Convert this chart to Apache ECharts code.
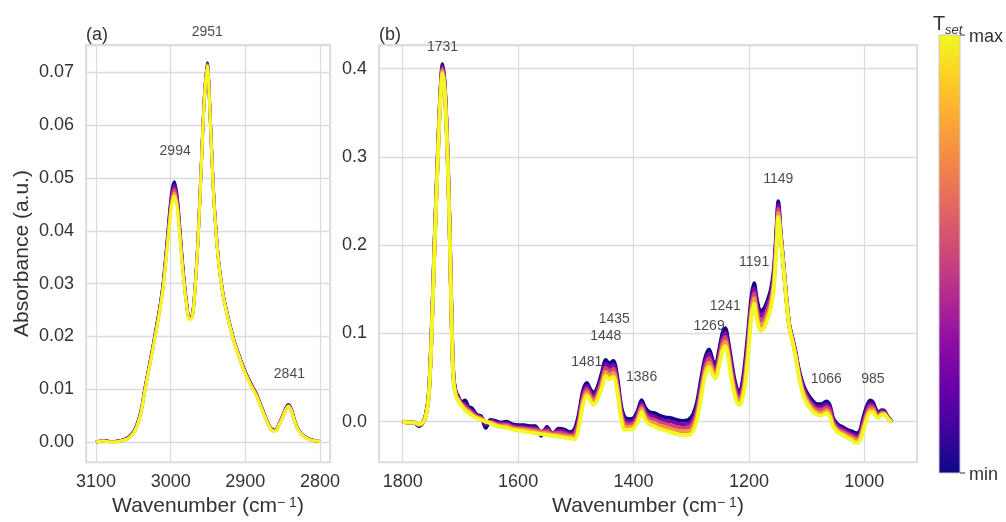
<!DOCTYPE html>
<html>
<head>
<meta charset="utf-8">
<script src="https://cdn.jsdelivr.net/npm/echarts@6/dist/echarts.min.js"></script>
<style>
  html, body { margin: 0; padding: 0; background: #ffffff; }
  #chart { width: 1006px; height: 522px; }
</style>
</head>
<body>
<div id="chart"></div>
<script>
// ---- (a) C–H stretching region, wavenumber in cm^-1 ----
const wnA = [3100, 3090, 3080, 3070, 3064, 3056, 3048, 3040, 3035, 3030,
  3025, 3020, 3015, 3010, 3005, 2999, 2995, 2991, 2987, 2983,
  2979, 2975, 2971, 2967, 2963, 2959, 2955, 2951, 2947, 2943,
  2939, 2935, 2930, 2925, 2920, 2915, 2910, 2905, 2900, 2895,
  2890, 2885, 2880, 2875, 2870, 2865, 2860, 2855, 2850, 2846,
  2842, 2838, 2834, 2830, 2825, 2820, 2815, 2810, 2805, 2800];

// absorbance, one array per set temperature (T1 = min ... T5 = max)
const absA_T1 = [0.0000, 0.0003, 0.0001, 0.0002, 0.0004, 0.0010, 0.0024, 0.0058, 0.0098, 0.0135,
  0.0172, 0.0212, 0.0252, 0.0302, 0.0378, 0.0470, 0.0493, 0.0462, 0.0392, 0.0322,
  0.0268, 0.0236, 0.0240, 0.0300, 0.0395, 0.0525, 0.0650, 0.0718, 0.0615, 0.0485,
  0.0395, 0.0333, 0.0282, 0.0248, 0.0219, 0.0192, 0.0171, 0.0151, 0.0133, 0.0118,
  0.0104, 0.0091, 0.0073, 0.0055, 0.0038, 0.0025, 0.0023, 0.0034, 0.0050, 0.0064,
  0.0071, 0.0061, 0.0041, 0.0027, 0.0016, 0.0010, 0.0006, 0.0004, 0.0002, 0.0001];
const absA_T2 = [0.0000, 0.0003, 0.0001, 0.0002, 0.0004, 0.0010, 0.0023, 0.0057, 0.0097, 0.0134,
  0.0170, 0.0210, 0.0250, 0.0300, 0.0374, 0.0464, 0.0486, 0.0457, 0.0388, 0.0320,
  0.0267, 0.0235, 0.0239, 0.0299, 0.0394, 0.0524, 0.0649, 0.0716, 0.0614, 0.0484,
  0.0394, 0.0332, 0.0281, 0.0247, 0.0218, 0.0191, 0.0170, 0.0150, 0.0132, 0.0117,
  0.0103, 0.0090, 0.0072, 0.0054, 0.0037, 0.0024, 0.0022, 0.0033, 0.0049, 0.0063,
  0.0070, 0.0060, 0.0040, 0.0026, 0.0016, 0.0010, 0.0006, 0.0004, 0.0002, 0.0001];
const absA_T3 = [0.0000, 0.0002, 0.0001, 0.0001, 0.0003, 0.0009, 0.0022, 0.0056, 0.0096, 0.0133,
  0.0169, 0.0208, 0.0248, 0.0297, 0.0370, 0.0457, 0.0479, 0.0451, 0.0384, 0.0317,
  0.0265, 0.0234, 0.0238, 0.0298, 0.0392, 0.0522, 0.0647, 0.0715, 0.0612, 0.0482,
  0.0393, 0.0331, 0.0280, 0.0246, 0.0217, 0.0190, 0.0169, 0.0149, 0.0131, 0.0116,
  0.0102, 0.0089, 0.0071, 0.0053, 0.0037, 0.0024, 0.0022, 0.0033, 0.0048, 0.0062,
  0.0069, 0.0059, 0.0040, 0.0026, 0.0015, 0.0009, 0.0005, 0.0003, 0.0002, 0.0001];
const absA_T4 = [0.0000, 0.0002, 0.0000, 0.0001, 0.0003, 0.0008, 0.0021, 0.0055, 0.0094, 0.0131,
  0.0167, 0.0206, 0.0246, 0.0294, 0.0366, 0.0451, 0.0472, 0.0445, 0.0380, 0.0314,
  0.0263, 0.0233, 0.0237, 0.0297, 0.0391, 0.0521, 0.0646, 0.0713, 0.0611, 0.0481,
  0.0392, 0.0330, 0.0280, 0.0245, 0.0216, 0.0189, 0.0168, 0.0148, 0.0130, 0.0115,
  0.0101, 0.0088, 0.0070, 0.0053, 0.0036, 0.0023, 0.0021, 0.0032, 0.0047, 0.0061,
  0.0068, 0.0058, 0.0039, 0.0025, 0.0015, 0.0009, 0.0005, 0.0003, 0.0002, 0.0001];
const absA_T5 = [0.0000, 0.0002, 0.0000, 0.0001, 0.0003, 0.0008, 0.0021, 0.0054, 0.0093, 0.0130,
  0.0166, 0.0205, 0.0244, 0.0292, 0.0362, 0.0444, 0.0466, 0.0440, 0.0376, 0.0312,
  0.0262, 0.0232, 0.0236, 0.0296, 0.0390, 0.0520, 0.0645, 0.0712, 0.0610, 0.0480,
  0.0391, 0.0329, 0.0279, 0.0245, 0.0216, 0.0189, 0.0168, 0.0148, 0.0129, 0.0114,
  0.0100, 0.0087, 0.0070, 0.0052, 0.0036, 0.0023, 0.0021, 0.0032, 0.0047, 0.0061,
  0.0068, 0.0058, 0.0039, 0.0025, 0.0015, 0.0009, 0.0005, 0.0003, 0.0002, 0.0001];

// ---- (b) fingerprint region ----
const wnB = [1800, 1790, 1780, 1772, 1765, 1760, 1755, 1750, 1745, 1740,
  1735, 1731, 1727, 1722, 1718, 1715, 1712, 1708, 1704, 1698,
  1692, 1686, 1680, 1672, 1664, 1656, 1648, 1640, 1630, 1620,
  1610, 1600, 1590, 1580, 1570, 1560, 1550, 1540, 1530, 1520,
  1510, 1502, 1495, 1488, 1481, 1475, 1469, 1462, 1455, 1448,
  1442, 1435, 1428, 1422, 1416, 1408, 1400, 1393, 1386, 1380,
  1373, 1365, 1355, 1345, 1335, 1325, 1315, 1305, 1297, 1290,
  1283, 1276, 1269, 1262, 1258, 1252, 1246, 1241, 1236, 1230,
  1224, 1218, 1214, 1208, 1202, 1196, 1191, 1186, 1180, 1174,
  1168, 1162, 1157, 1153, 1149, 1145, 1140, 1135, 1130, 1125,
  1120, 1113, 1106, 1098, 1090, 1082, 1074, 1066, 1060, 1054,
  1046, 1038, 1030, 1022, 1014, 1008, 1002, 996, 990, 985,
  980, 975, 970, 965, 960, 955, 952];

const absB_T1 = [0.000, -0.001, -0.001, -0.005, -0.001, 0.008, 0.030, 0.100, 0.200, 0.290,
  0.370, 0.405, 0.380, 0.300, 0.200, 0.110, 0.052, 0.034, 0.029, 0.022,
  0.024, 0.017, 0.015, 0.008, 0.006, -0.007, 0.002, 0.001, -0.001, 0.000,
  -0.003, -0.004, -0.004, -0.005, -0.005, -0.016, -0.006, -0.015, -0.008, -0.009,
  -0.012, -0.008, 0.008, 0.034, 0.044, 0.037, 0.032, 0.040, 0.055, 0.070,
  0.066, 0.069, 0.050, 0.020, 0.006, 0.003, 0.004, 0.012, 0.0245, 0.016,
  0.011, 0.010, 0.007, 0.005, 0.004, 0.002, 0.001, 0.002, 0.008, 0.022,
  0.048, 0.072, 0.082, 0.068, 0.064, 0.080, 0.100, 0.106, 0.092, 0.067,
  0.045, 0.034, 0.036, 0.060, 0.098, 0.140, 0.157, 0.138, 0.125, 0.128,
  0.137, 0.150, 0.172, 0.210, 0.250, 0.215, 0.178, 0.140, 0.110, 0.096,
  0.082, 0.058, 0.042, 0.031, 0.024, 0.020, 0.020, 0.023, 0.019, 0.004,
  -0.003, -0.006, -0.009, -0.011, -0.013, -0.011, 0.004, 0.017, 0.024, 0.022,
  0.014, 0.010, 0.013, 0.012, 0.006, 0.002, 0.000];
const absB_T2 = [0.000, -0.001, -0.001, -0.004, -0.001, 0.0075, 0.029, 0.099, 0.198, 0.288,
  0.368, 0.4025, 0.378, 0.298, 0.199, 0.109, 0.051, 0.033, 0.028, 0.021,
  0.020, 0.015, 0.012, 0.007, 0.005, -0.003, 0.001, -0.0005, -0.002, -0.002,
  -0.0045, -0.0055, -0.006, -0.007, -0.007, -0.012, -0.008, -0.013, -0.010, -0.011,
  -0.014, -0.011, 0.004, 0.030, 0.0405, 0.034, 0.029, 0.0365, 0.051, 0.0655,
  0.0615, 0.0645, 0.046, 0.016, 0.002, 0.000, 0.001, 0.009, 0.021, 0.0125,
  0.0075, 0.006, 0.003, 0.001, 0.000, -0.002, -0.003, -0.002, 0.003, 0.017,
  0.0425, 0.067, 0.077, 0.064, 0.060, 0.0755, 0.095, 0.101, 0.087, 0.062,
  0.041, 0.030, 0.032, 0.054, 0.091, 0.134, 0.151, 0.132, 0.1195, 0.1225,
  0.132, 0.1445, 0.1665, 0.2045, 0.2455, 0.213, 0.177, 0.139, 0.109, 0.095,
  0.081, 0.056, 0.039, 0.028, 0.021, 0.017, 0.017, 0.020, 0.016, 0.0015,
  -0.005, -0.008, -0.011, -0.0135, -0.016, -0.014, 0.000, 0.013, 0.021, 0.019,
  0.012, 0.0085, 0.012, 0.011, 0.0055, 0.002, 0.000];
const absB_T3 = [0.000, -0.001, -0.001, -0.004, -0.001, 0.007, 0.0285, 0.0975, 0.1965, 0.286,
  0.366, 0.400, 0.376, 0.2965, 0.1975, 0.1075, 0.0495, 0.0315, 0.0265, 0.020,
  0.017, 0.0135, 0.010, 0.006, 0.004, -0.001, 0.000, -0.002, -0.0035, -0.0035,
  -0.006, -0.007, -0.0075, -0.0085, -0.009, -0.011, -0.0105, -0.013, -0.0125, -0.0135,
  -0.0155, -0.014, 0.000, 0.026, 0.037, 0.0305, 0.0255, 0.033, 0.0465, 0.061,
  0.057, 0.060, 0.0415, 0.0125, -0.0015, -0.003, -0.002, 0.0055, 0.018, 0.009,
  0.004, 0.0025, -0.0005, -0.0025, -0.004, -0.006, -0.007, -0.0065, -0.0015, 0.012,
  0.037, 0.062, 0.072, 0.060, 0.0565, 0.071, 0.090, 0.096, 0.0825, 0.057,
  0.0365, 0.0265, 0.028, 0.0475, 0.084, 0.1285, 0.1455, 0.1265, 0.114, 0.117,
  0.1265, 0.139, 0.161, 0.199, 0.241, 0.2115, 0.176, 0.1385, 0.1085, 0.094,
  0.0795, 0.054, 0.036, 0.025, 0.018, 0.014, 0.0135, 0.0165, 0.0125, -0.001,
  -0.0075, -0.0105, -0.0135, -0.016, -0.0185, -0.0165, -0.0035, 0.0095, 0.0175, 0.0165,
  0.010, 0.007, 0.0105, 0.010, 0.005, 0.0015, 0.000];
const absB_T4 = [0.000, -0.001, -0.001, -0.003, -0.001, 0.0065, 0.028, 0.096, 0.195, 0.284,
  0.364, 0.3975, 0.374, 0.295, 0.196, 0.106, 0.048, 0.030, 0.025, 0.019,
  0.015, 0.012, 0.0085, 0.005, 0.003, 0.000, -0.001, -0.003, -0.005, -0.005,
  -0.0075, -0.0085, -0.009, -0.010, -0.011, -0.0125, -0.013, -0.0145, -0.015, -0.016,
  -0.017, -0.017, -0.004, 0.022, 0.0335, 0.027, 0.022, 0.0295, 0.042, 0.0565,
  0.0525, 0.0555, 0.037, 0.009, -0.005, -0.006, -0.005, 0.002, 0.015, 0.0055,
  0.0005, -0.001, -0.004, -0.006, -0.008, -0.010, -0.011, -0.011, -0.006, 0.007,
  0.0315, 0.057, 0.067, 0.056, 0.053, 0.0665, 0.085, 0.091, 0.078, 0.052,
  0.032, 0.023, 0.024, 0.041, 0.077, 0.123, 0.140, 0.121, 0.1085, 0.1115,
  0.121, 0.1335, 0.1555, 0.1935, 0.2365, 0.2095, 0.175, 0.1378, 0.108, 0.093,
  0.078, 0.052, 0.033, 0.022, 0.015, 0.011, 0.010, 0.013, 0.009, -0.0035,
  -0.010, -0.013, -0.016, -0.0185, -0.021, -0.019, -0.007, 0.006, 0.014, 0.014,
  0.008, 0.0055, 0.009, 0.009, 0.0045, 0.001, 0.000];
const absB_T5 = [0.000, -0.001, -0.001, -0.003, -0.001, 0.006, 0.027, 0.095, 0.193, 0.282,
  0.362, 0.395, 0.372, 0.293, 0.195, 0.105, 0.047, 0.029, 0.024, 0.018,
  0.013, 0.010, 0.007, 0.004, 0.002, 0.000, -0.002, -0.004, -0.006, -0.007,
  -0.009, -0.010, -0.011, -0.012, -0.013, -0.014, -0.015, -0.016, -0.017, -0.018,
  -0.019, -0.020, -0.008, 0.018, 0.030, 0.024, 0.019, 0.026, 0.038, 0.052,
  0.048, 0.051, 0.033, 0.005, -0.009, -0.009, -0.008, -0.001, 0.0115, 0.002,
  -0.003, -0.005, -0.008, -0.010, -0.012, -0.014, -0.015, -0.015, -0.011, 0.002,
  0.026, 0.052, 0.062, 0.052, 0.049, 0.062, 0.080, 0.086, 0.073, 0.047,
  0.028, 0.019, 0.020, 0.035, 0.070, 0.117, 0.134, 0.115, 0.103, 0.106,
  0.116, 0.128, 0.150, 0.188, 0.232, 0.208, 0.174, 0.137, 0.107, 0.092,
  0.077, 0.050, 0.030, 0.019, 0.012, 0.008, 0.007, 0.010, 0.006, -0.006,
  -0.012, -0.015, -0.018, -0.021, -0.024, -0.022, -0.011, 0.002, 0.011, 0.011,
  0.006, 0.004, 0.008, 0.008, 0.004, 0.001, 0.000];

// peak assignments written on each panel
const peaksA = ['2994', '2951', '2841'];
const peaksB = ['1731', '1481', '1448', '1435', '1386', '1269', '1241', '1191', '1149', '1066', '985'];

// colour bar end labels
const cbarLabels = ['min', 'max'];

// ---- styling ----
const FONT = '"Liberation Sans", Arial, Helvetica, sans-serif';
const TXT = '#333333';
const GRIDLINE = '#dcdcdc';
const FRAME = '#cfcfcf';
// plasma colormap, low -> high
const plasmaStops = ['#0d0887', '#41049d', '#6a00a8', '#8f0da4', '#b12a90', '#cc4778',
  '#e16462', '#f2844b', '#fca636', '#fcce25', '#f0f921'];
const curveColors = ['#0d0887', '#7e03a8', '#cc4778', '#f89540', '#f0f921'];

// label offsets (px) from each peak top
const peakOffsetsA = [[0, -31], [0, -31], [0, -30]];
const peakOffsetsB = [[0, -17], [0, -21], [0, -24], [1, -42], [0, -23], [0, -23], [0, -22], [0, -21], [0, -22], [0, -22], [0, -23]];

const absA = [absA_T1, absA_T2, absA_T3, absA_T4, absA_T5];
const absB = [absB_T1, absB_T2, absB_T3, absB_T4, absB_T5];

const zip = (xs, ys) => xs.map((x, i) => [x, ys[i]]);

function nearestTop(wn, xs, ys) {
  let best = 0;
  xs.forEach((x, i) => { if (Math.abs(x - wn) < Math.abs(xs[best] - wn)) best = i; });
  return ys[best];
}

function onStep(v, step) {
  const r = v / step;
  return Math.abs(r - Math.round(r)) < 1e-6;
}

function xAxisCfg(gi, min, max, splitNumber, step) {
  return {
    type: 'value', gridIndex: gi, inverse: true, min: min, max: max, splitNumber: splitNumber,
    axisLine: { show: false }, axisTick: { show: false },
    axisLabel: {
      color: TXT, fontSize: 18, fontFamily: FONT, margin: 11,
      showMinLabel: false, showMaxLabel: false,
      formatter: v => onStep(v, step) ? String(Math.round(v)) : ''
    },
    splitLine: { show: true, lineStyle: { color: GRIDLINE, width: 1.3 } },
    name: 'Wavenumber (cm{sup|\u2212 1})',
    nameLocation: 'middle', nameGap: 26,
    nameTextStyle: {
      color: TXT, fontSize: 21, fontFamily: FONT,
      rich: { sup: { fontSize: 14, color: TXT, fontFamily: FONT, verticalAlign: 'top' } }
    }
  };
}

function yAxisCfg(gi, min, max, splitNumber, step, digits) {
  return {
    type: 'value', gridIndex: gi, min: min, max: max, splitNumber: splitNumber,
    axisLine: { show: false }, axisTick: { show: false },
    axisLabel: {
      color: TXT, fontSize: 18, fontFamily: FONT, margin: 12,
      showMinLabel: false, showMaxLabel: false,
      formatter: v => onStep(v, step) ? (Math.abs(v) < 1e-9 ? 0 : v).toFixed(digits) : ''
    },
    splitLine: { show: true, lineStyle: { color: GRIDLINE, width: 1.3 } }
  };
}

const series = [];
absA.forEach((ys, i) => series.push({
  type: 'line', xAxisIndex: 0, yAxisIndex: 0, data: zip(wnA, ys),
  symbol: 'none', smooth: 0.3, silent: true,
  lineStyle: { color: curveColors[i], width: 3 }, z: 2 + i
}));
absB.forEach((ys, i) => series.push({
  type: 'line', xAxisIndex: 1, yAxisIndex: 1, data: zip(wnB, ys),
  symbol: 'none', smooth: 0.3, silent: true,
  lineStyle: { color: curveColors[i], width: 3.8 }, z: 2 + i
}));

function peakSeries(axisIdx, labels, offsets, xs, ys) {
  return {
    type: 'scatter', xAxisIndex: axisIdx, yAxisIndex: axisIdx,
    symbolSize: 0, clip: false, silent: true, z: 20,
    data: labels.map((t, k) => ({
      name: t,
      value: [Number(t), nearestTop(Number(t), xs, ys)],
      label: { offset: offsets[k] }
    })),
    label: {
      show: true, position: 'inside', formatter: p => p.name,
      color: '#1a1a1a', fontSize: 14, fontFamily: FONT
    }
  };
}
series.push(peakSeries(0, peaksA, peakOffsetsA, wnA, absA_T1));
series.push(peakSeries(1, peaksB, peakOffsetsB, wnB, absB_T1));

const chart = echarts.init(document.getElementById('chart'), null, { renderer: 'canvas' });

const cbX = 939, cbY = 35, cbW = 21, cbH = 438;
const gradient = new echarts.graphic.LinearGradient(0, 1, 0, 0,
  plasmaStops.map((c, i) => ({ offset: i / (plasmaStops.length - 1), color: c })));

function cbLabel(i) { return cbarLabels[i]; }

chart.setOption({
  animation: false,
  backgroundColor: '#ffffff',
  grid: [
    { left: 86, top: 45, width: 244, height: 423, show: true, borderColor: FRAME, borderWidth: 1.3 },
    { left: 379, top: 45, width: 538, height: 423, show: true, borderColor: FRAME, borderWidth: 1.3 }
  ],
  xAxis: [
    xAxisCfg(0, 2786.6, 3113.4, 3, 100),
    xAxisCfg(1, 908.7, 1841.1, 5, 200)
  ],
  yAxis: [
    Object.assign(yAxisCfg(0, -0.00379, 0.07517, 8, 0.01, 2), {
      name: 'Absorbance (a.u.)', nameLocation: 'middle', nameGap: 53,
      nameTextStyle: { color: TXT, fontSize: 21, fontFamily: FONT }
    }),
    yAxisCfg(1, -0.0458, 0.4268, 5, 0.1, 1)
  ],
  series: series,
  graphic: [
    { type: 'text', x: 86, y: 35, style: { text: '(a)', fontSize: 18, fontFamily: FONT, fill: TXT, verticalAlign: 'middle' } },
    { type: 'text', x: 379, y: 35, style: { text: '(b)', fontSize: 18, fontFamily: FONT, fill: TXT, verticalAlign: 'middle' } },
    { type: 'rect', shape: { x: cbX, y: cbY, width: cbW, height: cbH }, style: { fill: gradient, stroke: '#c8c8c8', lineWidth: 1 } },
    { type: 'line', shape: { x1: cbX + cbW, y1: cbY + cbH, x2: cbX + cbW + 5, y2: cbY + cbH }, style: { stroke: TXT, lineWidth: 1 } },
    { type: 'line', shape: { x1: cbX + cbW, y1: cbY, x2: cbX + cbW + 5, y2: cbY }, style: { stroke: TXT, lineWidth: 1 } },
    { type: 'text', x: cbX + cbW + 9, y: cbY + cbH + 2, style: { text: cbLabel(0), fontSize: 18, fontFamily: FONT, fill: TXT, verticalAlign: 'middle' } },
    { type: 'text', x: cbX + cbW + 9, y: cbY + 2, style: { text: cbLabel(1), fontSize: 18, fontFamily: FONT, fill: TXT, verticalAlign: 'middle' } },
    { type: 'text', x: 933, y: 24, style: { text: 'T', fontSize: 20, fontFamily: FONT, fill: TXT, verticalAlign: 'middle' } },
    { type: 'text', x: 945, y: 30, style: { text: 'set', fontSize: 13, fontStyle: 'italic', fontFamily: FONT, fill: TXT, verticalAlign: 'middle' } }
  ]
});
</script>
</body>
</html>
